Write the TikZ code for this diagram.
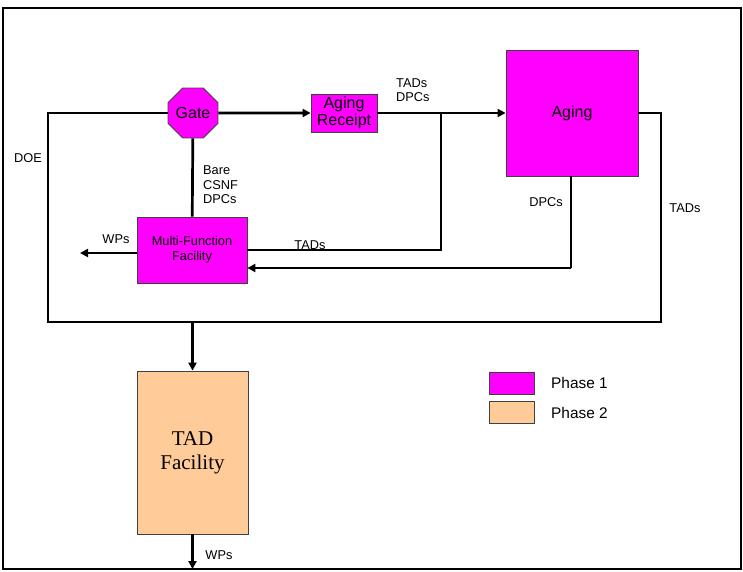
\documentclass[tikz,border=0pt]{standalone}
\usepackage{fontspec}
\setmainfont{Liberation Sans}
\newfontfamily\timesfont{Liberation Serif}
\usepackage{xcolor}
\usetikzlibrary{shapes,arrows.meta,positioning,calc}

\definecolor{phaseone}{HTML}{FF00FF}
\definecolor{phasetwo}{HTML}{FFCC99}

\begin{document}
\begin{tikzpicture}[x=1pt, y=-1pt,
    block/.style={rectangle, draw=black!75, line width=0.8pt, fill=phaseone, align=center, inner sep=0pt},
    flow/.style={line width=2.7pt},
    arrow/.style={flow, -{Triangle[length=8pt,width=8pt]}},
    lbl/.style={font=\fontsize{12.8}{14.5}\selectfont, align=left, inner sep=0pt}
  ]
    \useasboundingbox (0,0) rectangle (743,571);
    \draw[line width=2pt] (3,8) rectangle (741,569);

    % phase 1 facilities
    \node[regular polygon, regular polygon sides=8, draw=black!75, line width=0.8pt, fill=phaseone,
          minimum size=54pt, inner sep=0pt, font=\fontsize{16}{18}\selectfont] (gate) at (193,113) {Gate};
    \node[block, minimum width=66pt, minimum height=38pt, font=\fontsize{16}{17}\selectfont] (agerec) at (344,113) {Aging\\Receipt};
    \node[block, minimum width=132pt, minimum height=126pt, font=\fontsize{16}{18}\selectfont] (aging) at (572,113) {Aging};
    \node[block, minimum width=110pt, minimum height=66pt, font=\fontsize{12.8}{15}\selectfont] (mff) at (192,250) {Multi-Function\\Facility};

    % phase 2 facility
    \node[block, fill=phasetwo, minimum width=111pt, minimum height=163pt, font=\timesfont\fontsize{21}{24}\selectfont] (tad) at (192.5,452.5) {TAD\\Facility};

    % legend
    \node[block, minimum width=45pt, minimum height=22pt] (leg1) at (511.5,383) {};
    \node[block, fill=phasetwo, minimum width=45pt, minimum height=22pt, below=7pt of leg1] (leg2) {};
    \node[anchor=west, font=\fontsize{15.4}{17}\selectfont, inner sep=0pt] (leg1txt) at (551,383) {Phase 1};
    \node[anchor=west, font=\fontsize{15.4}{17}\selectfont, inner sep=0pt] (leg2txt) at (leg2.east -| leg1txt.west) {Phase 2};

    % turning points
    \coordinate (split) at (441,113);
    \coordinate (tadsin) at (split |- mff.east);
    \coordinate (dpcturn) at (571,268);
    \coordinate (tadr) at (661,322);
    \coordinate (doel) at (48,322);
    \coordinate (join) at (tad.north |- doel);
    \coordinate (wpsl) at (80,253);
    \coordinate (wpsout) at (tad.south |- 0,569);

    \draw[arrow] (gate) -- (agerec);
    \draw[arrow] (agerec) -- (aging);
    \draw[flow] (split) -- (tadsin) -- (mff.east);
    \draw[flow] (gate) -- (mff);
    \draw[arrow] (mff.west |- wpsl) -- (wpsl);
    \draw[line width=1.2pt] (aging.south -| dpcturn) -- (dpcturn);
    \draw[arrow] (dpcturn) -- (dpcturn -| mff.east);
    \draw[flow] (aging.east) -| (tadr) -- (doel) |- (gate.west);
    \draw[arrow] (join) -- (tad.north);
    \draw[arrow] (tad.south) -- (wpsout);

    % flow labels
    \node[lbl] (doe) at (28,158) {DOE};
    \node[lbl, anchor=west] (bare) at (203,185) {Bare\\CSNF\\DPCs};
    \node[lbl, anchor=west] (tadsdpcs) at (396,90) {TADs\\DPCs};
    \node[lbl] (wpsa) at (116,239) {WPs};
    \node[lbl] (tadsa) at (310,245) {TADs};
    \node[lbl] (dpcsa) at (546,202) {DPCs};
    \node[lbl] (tadsb) at (685,208) {TADs};
    \node[lbl] (wpsb) at (219,555) {WPs};
  \end{tikzpicture}
\end{document}
